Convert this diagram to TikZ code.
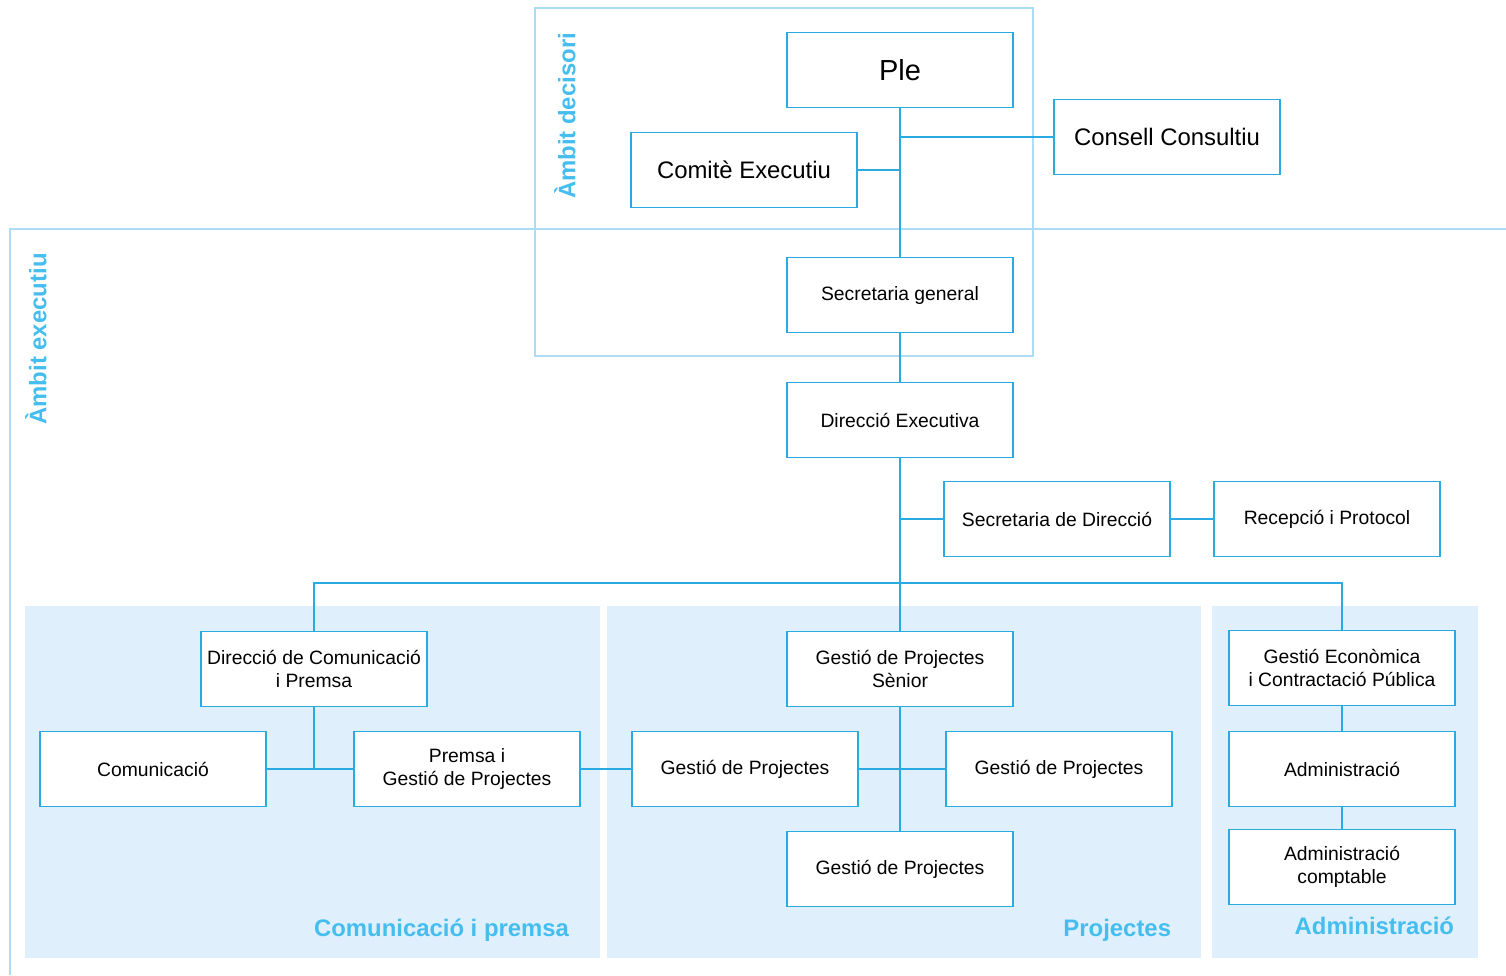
\documentclass[tikz,border=0pt]{standalone}
\usepackage{fontspec}
\setmainfont{Liberation Sans}
\definecolor{orgblue}{HTML}{29ABE2}
\definecolor{frameblue}{HTML}{ACDDF5}
\definecolor{panelblue}{HTML}{DFF0FC}
\definecolor{labelblue}{HTML}{45BDEE}
\begin{document}
\begin{tikzpicture}[x=0.02cm, y=-0.02cm, line width=1.1pt,
  unit/.style={rectangle,draw=orgblue,fill=white,minimum width=4.52cm,minimum height=1.5cm,inner sep=0pt,align=center,font=\fontsize{11}{13}\selectfont},
  big unit/.style={unit,font=\fontsize{13.6}{16}\selectfont},
  area label/.style={font=\fontsize{13.6}{16}\selectfont\bfseries,text=labelblue,inner sep=0pt},
  zone frame/.style={draw=frameblue,line width=0.8pt}]
\useasboundingbox (0,0) rectangle (1506,975);
% zones
\fill[panelblue] (25,606) rectangle (600,958);
\fill[panelblue] (607,606) rectangle (1201,958);
\fill[panelblue] (1212,606) rectangle (1478,958);
\draw[white,dashed,line width=1.5pt] (604,606) -- (604,958);
\draw[zone frame] (535,8) rectangle (1033,356);
\draw[zone frame] (1506,229) -- (10,229) -- (10,975);
\begin{scope}[every node/.style={area label}]
\node[rotate=90] (ldec) at (565,116) {Àmbit decisori};
\node[rotate=90] (lexe) at (36,339) {Àmbit executiu};
\node[anchor=east] (lcom) at (570,930) {Comunicació i premsa};
\node[anchor=east] (lpro) at (1172,930) {Projectes};
\node[anchor=east] (ladm) at (1455,926) {Administració};
\end{scope}
\begin{scope}
\node[unit,font=\fontsize{16.5}{19}\selectfont] (ple) at (900,70) {Ple};
\node[big unit] (ce) at (744,170) {Comitè Executiu};
\node[big unit] (cc) at (1167,137) {Consell Consultiu};
\node[unit] (sg) at (900,295) {Secretaria general};
\node[unit] (de) at (900,420) {Direcció Executiva};
\node[unit] (sd) at (1057,519) {Secretaria de Direcció};
\node[unit] (rp) at (1327,519) {Recepció i Protocol};
\node[unit] (dcp) at (314,669) {Direcció de Comunicació\\i Premsa};
\node[unit] (com) at (153,769) {Comunicació};
\node[unit] (prm) at (467,769) {Premsa i\\Gestió de Projectes};
\node[unit] (gps) at (900,669) {Gestió de Projectes\\Sènior};
\node[unit] (gpl) at (745,769) {Gestió de Projectes};
\node[unit] (gpr) at (1059,769) {Gestió de Projectes};
\node[unit] (gpb) at (900,869) {Gestió de Projectes};
\node[unit] (gec) at (1342,668) {Gestió Econòmica\\i Contractació Pública};
\node[unit] (adm) at (1342,769) {Administració};
\node[unit] (adc) at (1342,867) {Administració\\comptable};
\coordinate (bus) at (900,583);
\end{scope}
\begin{scope}[draw=orgblue]
\draw (ple) -- (sg);
\draw (ce.east) -- (ce.east -| ple.south);
\draw (cc.west) -- (cc.west -| ple.south);
\draw (sg) -- (de);
\draw (de) -- (gps);
\draw (sd.west) -- (sd.west -| de.south);
\draw (sd) -- (rp);
\draw (dcp.north) |- (bus) -| (gec.north);
\draw (dcp.south) -- (dcp.south |- com.east);
\draw (com) -- (prm);
\draw (prm) -- (gpl);
\draw (gpl) -- (gpr);
\draw (gps) -- (gpb);
\draw (gec) -- (adm);
\draw (adm) -- (adc);
\end{scope}
\end{tikzpicture}
\end{document}
